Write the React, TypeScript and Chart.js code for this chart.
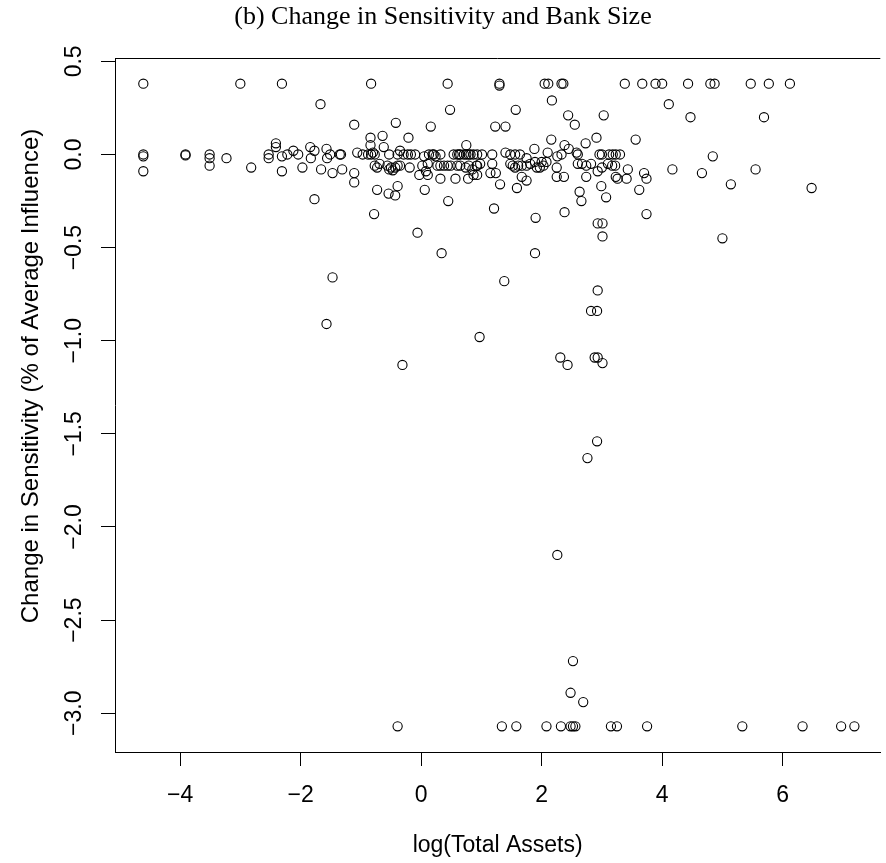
import React, { useEffect, useRef } from 'react';
import { Chart, registerables } from 'chart.js';

Chart.register(...registerables);

const TITLE = '(b) Change in Sensitivity and Bank Size';
const X_TITLE = 'log(Total Assets)';
const Y_TITLE = 'Change in Sensitivity (% of Average Influence)';

const X_TICKS = [-4, -2, 0, 2, 4, 6];
const Y_TICKS = [0.5, 0, -0.5, -1, -1.5, -2, -2.5, -3];

// values capped at the top / bottom of the scale
const TOP_VALUE = 0.38;
const BOTTOM_VALUE = -3.07;
const topRowX = [-4.61, -3.0, -2.31, -0.83, 0.44, 1.3, 2.05, 2.11, 2.33, 2.36, 3.38, 3.67, 3.89, 4.0, 4.43, 4.8, 4.87, 5.47, 5.77, 6.12];
const bottomRowX = [-0.39, 1.34, 1.58, 2.08, 2.32, 2.48, 2.52, 2.56, 3.15, 3.25, 3.75, 5.33, 6.33, 6.97, 7.19];

// small banks (log assets below ~0.9)
const smallBanks: [number, number][] = [
  [-1.67, 0.27], [0.48, 0.24], [-1.11, 0.16], [-0.42, 0.17], [0.16, 0.15], [-0.84, 0.09], [-0.64, 0.1], [-0.21, 0.09],
  [-0.84, 0.05], [-0.62, 0.04], [0.75, 0.05],
  [-4.61, 0.0], [-4.61, -0.01], [-4.61, -0.09], [-3.91, 0.0], [-3.91, -0.005], [-3.51, 0.0], [-3.51, -0.02], [-3.51, -0.06],
  [-3.23, -0.02], [-2.82, -0.07], [-2.53, 0.0], [-2.53, -0.02], [-2.41, 0.06], [-2.41, 0.04], [-2.31, -0.01], [-2.31, -0.09],
  [-2.22, 0.0], [-2.12, 0.02], [-2.04, 0.0], [-1.97, -0.07], [-1.84, 0.04], [-1.83, -0.02], [-1.77, 0.02], [-1.77, -0.24],
  [-1.66, -0.08], [-1.57, 0.03], [-1.56, -0.02], [-1.51, 0.0], [-1.47, -0.1], [-1.35, 0.0], [-1.33, 0.0], [-1.31, -0.08],
  [-1.11, -0.1], [-1.11, -0.15], [-1.06, 0.01], [-0.97, 0.0], [-0.88, 0.0], [-0.83, 0.0], [-0.8, 0.01], [-0.77, 0.0],
  [-0.77, -0.06], [-0.73, -0.07], [-0.73, -0.19], [-0.78, -0.32], [-0.69, -0.05], [-0.56, -0.06], [-0.53, -0.08], [-0.5, -0.07],
  [-0.47, -0.085], [-0.43, -0.07], [-0.39, -0.06], [-0.35, -0.06], [-0.54, -0.21], [-0.43, -0.22], [-0.39, -0.17], [-0.53, 0.0],
  [-0.39, 0.0], [-0.35, 0.02], [-0.29, 0.0], [-0.22, 0.0], [-0.17, 0.0], [-0.1, 0.0], [-0.19, -0.07], [-0.06, -0.42],
  [-0.03, -0.11], [0.02, -0.06], [0.05, -0.01], [0.08, -0.09], [0.11, -0.05], [0.13, 0.0], [0.19, 0.0], [0.21, 0.0],
  [0.24, -0.01], [0.27, -0.06], [0.11, -0.11], [0.06, -0.19], [0.32, 0.0], [0.32, -0.06], [0.38, -0.06], [0.44, -0.06],
  [0.32, -0.13], [0.45, -0.25], [0.49, -0.06], [0.57, -0.13], [0.54, 0.0], [0.6, 0.0], [0.63, 0.0], [0.65, 0.0],
  [0.71, 0.0], [0.75, 0.0], [0.79, 0.0], [0.82, 0.0], [0.87, 0.0], [0.6, -0.06], [0.65, -0.06], [0.74, -0.07],
  [0.78, -0.13], [0.79, -0.06], [0.85, -0.08], [0.87, -0.11], [0.92, -0.06],
];

// larger banks (log assets above ~0.9), near zero
const largeBanks: [number, number][] = [
  [1.3, 0.37], [4.11, 0.27], [2.17, 0.29], [1.57, 0.24], [2.44, 0.21], [2.55, 0.16], [3.03, 0.21], [4.47, 0.2],
  [5.69, 0.2], [1.23, 0.15], [1.4, 0.15], [2.16, 0.08], [2.91, 0.09], [3.56, 0.08], [2.38, 0.05], [2.45, 0.03],
  [2.73, 0.06], [1.88, 0.03], [4.84, -0.01],
  [0.93, 0.0], [1.01, 0.0], [1.18, 0.0], [1.4, 0.01], [1.48, 0.0], [1.56, 0.0], [1.64, 0.0], [1.75, -0.02],
  [2.1, 0.01], [2.26, -0.01], [2.33, 0.0], [2.58, 0.01], [2.6, 0.0], [2.96, 0.0], [3.0, 0.0], [3.12, 0.0],
  [3.18, 0.0], [3.23, 0.0], [3.3, 0.0], [1.89, -0.04], [2.0, -0.04], [2.08, -0.04],
  [0.93, -0.06], [0.98, -0.05], [1.18, -0.05], [1.48, -0.05], [1.52, -0.06], [1.56, -0.07], [1.61, -0.06], [1.67, -0.06],
  [1.75, -0.06], [1.81, -0.05], [1.92, -0.07], [1.97, -0.07], [2.03, -0.06], [2.25, -0.07], [2.6, -0.05], [2.67, -0.05],
  [2.74, -0.06], [2.82, -0.05], [2.93, -0.09], [3.0, -0.07], [3.1, -0.05], [3.17, -0.06], [3.22, -0.06], [3.43, -0.08],
  [4.17, -0.08], [4.66, -0.1], [5.55, -0.08],
  [0.93, -0.11], [1.15, -0.1], [1.24, -0.1], [1.67, -0.12], [1.75, -0.14], [2.25, -0.12], [2.37, -0.12], [2.74, -0.12],
  [3.23, -0.12], [3.26, -0.13], [3.41, -0.13], [3.7, -0.1], [3.74, -0.13],
  [1.31, -0.16], [1.59, -0.18], [2.99, -0.17], [5.14, -0.16], [6.48, -0.18],
  [2.63, -0.2], [3.62, -0.19], [2.66, -0.25], [3.07, -0.23],
  [1.21, -0.29], [1.9, -0.34], [2.38, -0.31], [3.74, -0.32],
  [2.93, -0.37], [3.01, -0.37], [3.01, -0.44], [5.0, -0.45],
];

// strongly negative changes
const tailPoints: [number, number][] = [
  [-1.47, -0.66], [-1.57, -0.91], [-0.31, -1.13], [0.34, -0.53],
  [1.89, -0.53], [1.38, -0.68], [2.93, -0.73], [2.82, -0.84], [2.92, -0.84], [0.97, -0.98],
  [2.31, -1.09], [2.43, -1.13], [2.88, -1.09], [2.93, -1.09], [3.01, -1.12],
  [2.92, -1.54], [2.76, -1.63], [2.26, -2.15], [2.52, -2.72], [2.48, -2.89], [2.69, -2.94],
];

const SANS = "'Liberation Sans', Arial, Helvetica, sans-serif";
const SERIF = "'Liberation Serif', 'Times New Roman', Times, serif";

const fmtX = (v: number) => (v < 0 ? '\u2212' + Math.abs(v) : String(v));
const fmtY = (v: number) => (v < 0 ? '\u2212' + Math.abs(v).toFixed(1) : v.toFixed(1));

const framePlugin = {
  id: 'rFrame',
  afterDraw(chart: any) {
    const { ctx, chartArea, scales } = chart;
    const y = scales.y;
    ctx.save();
    ctx.strokeStyle = '#000';
    ctx.lineWidth = 1;
    ctx.beginPath();
    ctx.moveTo(chartArea.left, Math.round(chartArea.top) + 0.5);
    ctx.lineTo(chartArea.right, Math.round(chartArea.top) + 0.5);
    ctx.stroke();
    ctx.fillStyle = '#000';
    ctx.font = `23px ${SANS}`;
    ctx.textAlign = 'center';
    ctx.textBaseline = 'middle';
    for (const t of y.ticks) {
      const py = y.getPixelForValue(t.value);
      ctx.save();
      ctx.translate(chartArea.left - 40, py);
      ctx.rotate(-Math.PI / 2);
      ctx.fillText(fmtY(t.value), 0, 0);
      ctx.restore();
    }
    // y axis title
    ctx.font = `24px ${SANS}`;
    ctx.save();
    ctx.translate(chartArea.left - 84, chartArea.top + 318);
    ctx.rotate(-Math.PI / 2);
    ctx.fillText(Y_TITLE, 0, 0);
    ctx.restore();
    ctx.restore();
  },
};

export default function App() {
  const ref = useRef<HTMLCanvasElement | null>(null);
  useEffect(() => {
    if (!ref.current) return;
    const pts = [
      ...topRowX.map((x) => ({ x, y: TOP_VALUE })),
      ...bottomRowX.map((x) => ({ x, y: BOTTOM_VALUE })),
      ...smallBanks.map(([x, y]) => ({ x, y })),
      ...largeBanks.map(([x, y]) => ({ x, y })),
      ...tailPoints.map(([x, y]) => ({ x, y })),
    ];
    const axisCommon = {
      grid: { drawOnChartArea: false, drawTicks: true, tickLength: 14, color: '#000', lineWidth: 1 },
      border: { display: true, color: '#000', width: 1 },
    };
    const chart = new Chart(ref.current, {
      type: 'scatter',
      data: {
        datasets: [
          {
            data: pts,
            pointStyle: 'circle',
            pointRadius: 4.6,
            pointHoverRadius: 4.6,
            borderWidth: 1.1,
            borderColor: '#000',
            backgroundColor: 'rgba(0,0,0,0)',
          },
        ],
      },
      options: {
        animation: false,
        responsive: false,
        devicePixelRatio: 1,
        layout: { padding: { left: 0, right: 0, top: 0, bottom: 0 } },
        plugins: {
          legend: { display: false },
          tooltip: { enabled: false },
          title: {
            display: true,
            text: TITLE,
            color: '#000',
            font: { family: SERIF, size: 26, weight: 'normal' },
            padding: { top: 2, bottom: 24.8 },
          },
        },
        scales: {
          x: {
            type: 'linear',
            min: -5.08,
            max: 7.62,
            ...axisCommon,
            afterBuildTicks: (s: any) => {
              s.ticks = X_TICKS.map((v) => ({ value: v }));
            },
            afterFit: (s: any) => {
              s.height = 111;
            },
            ticks: {
              color: '#000',
              font: { family: SANS, size: 23 },
              padding: 16,
              autoSkip: false,
              maxRotation: 0,
              minRotation: 0,
              callback: (v: any) => fmtX(Number(v)),
            },
            title: {
              display: true,
              text: X_TITLE,
              color: '#000',
              font: { family: SANS, size: 23 },
              padding: { top: 0, bottom: 4 },
            },
          },
          y: {
            type: 'linear',
            min: -3.208,
            max: 0.518,
            ...axisCommon,
            afterBuildTicks: (s: any) => {
              s.ticks = Y_TICKS.map((v) => ({ value: v }));
            },
            afterFit: (s: any) => {
              s.width = 115;
            },
            ticks: { display: false },
            title: { display: false },
          },
        },
      },
      plugins: [framePlugin],
    } as any);
    return () => chart.destroy();
  }, []);
  return (
    <div style={{ position: 'absolute', left: 0, top: 0, width: 886, height: 863, background: '#fff' }}>
      <canvas ref={ref} width={886} height={863} style={{ width: 886, height: 863, display: 'block' }} />
    </div>
  );
}
